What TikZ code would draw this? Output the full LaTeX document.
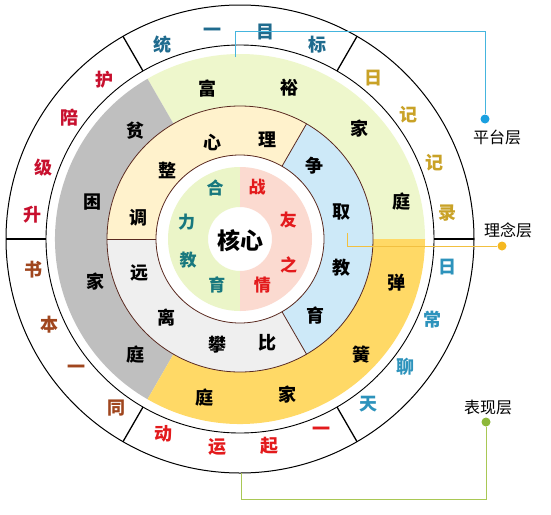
\documentclass[tikz,border=0pt]{standalone}
\usepackage{fontspec}
\newfontfamily\cjk{Noto Sans CJK SC}
\definecolor{cBlueA}{HTML}{1F6B8E}
\definecolor{cGold}{HTML}{C9A227}
\definecolor{cBlueB}{HTML}{2D93BC}
\definecolor{cRed}{HTML}{E31A1C}
\definecolor{cBrown}{HTML}{A0461E}
\definecolor{cCrimson}{HTML}{C8102E}
\definecolor{cTeal}{HTML}{18787E}
\definecolor{bandGreen}{HTML}{EEF7CC}
\definecolor{bandOrange}{HTML}{FFD966}
\definecolor{bandGray}{HTML}{BFBFBF}
\definecolor{midTan}{HTML}{FFF2CC}
\definecolor{midBlue}{HTML}{CDE9F8}
\definecolor{midGray}{HTML}{EFEFEF}
\definecolor{inGreen}{HTML}{EBF5C8}
\definecolor{inPink}{HTML}{FBDAD0}
\definecolor{ringLine}{HTML}{5A2A20}
\definecolor{lnBlue}{HTML}{45B5DE}
\definecolor{dotBlue}{HTML}{1AA0E0}
\definecolor{lnGold}{HTML}{F2C040}
\definecolor{dotGold}{HTML}{F5B820}
\definecolor{lnGreen}{HTML}{A9C855}
\definecolor{dotGreen}{HTML}{8DB83A}
\newcommand\mysector[5]{\fill[#1] ([shift={(#2:#5)}]O) arc[start angle=#2,end angle=#3,radius=#5] -- ([shift={(#3:#4)}]O) arc[start angle=#3,end angle=#2,radius=#4] -- cycle;}
\begin{document}
\begin{tikzpicture}[x=1pt,y=1pt,
  ch/.style={font=\cjk\bfseries\fontsize{18}{18}\selectfont, inner sep=0pt},
  chs/.style={font=\cjk\bfseries\fontsize{17}{17}\selectfont, inner sep=0pt},
  lab/.style={font=\cjk\fontsize{16}{16}\selectfont, inner sep=0pt, text=black},
  dotnode/.style={circle, inner sep=0pt, minimum size=9pt},
  conn/.style={line width=1pt}]
\useasboundingbox (0,0) rectangle (551,-514);
\coordinate (O) at (240,-239);
% outer band
\draw[line width=1pt, fill=white] (O) circle[radius=234pt];
\draw[line width=0.9pt] (O) circle[radius=194pt];
\foreach \a in {0,60,120,180,240,300}
  \draw[line width=1.3pt] ([shift={(\a:194pt)}]O) -- ([shift={(\a:234pt)}]O);
% coloured band
\mysector{bandGreen}{0}{120}{133pt}{185pt}
\mysector{bandGray}{120}{240}{133pt}{185pt}
\mysector{bandOrange}{240}{360}{133pt}{185pt}
% middle ring
\mysector{midTan}{60}{180}{84pt}{133pt}
\mysector{midGray}{180}{300}{84pt}{133pt}
\mysector{midBlue}{-60}{60}{84pt}{133pt}
\draw[ringLine, line width=0.8pt] (O) circle[radius=133pt];
\draw[ringLine, line width=0.8pt] (O) circle[radius=84pt];
\foreach \a in {60,180,300}
  \draw[ringLine, line width=0.8pt] ([shift={(\a:84pt)}]O) -- ([shift={(\a:133pt)}]O);
% inner ring
\mysector{inGreen}{90}{270}{32pt}{72pt}
\mysector{inPink}{-90}{90}{32pt}{72pt}
% outer band texts
\foreach \a/\c [count=\i] in {111.7/统,97.7/一,83/目,68.3/标}
  \node[ch, text=cBlueA] (ta\i) at ([shift={(\a:209pt)}]O) {\c};
\foreach \a/\c [count=\i] in {50.2/日,36.4/记,21.5/记,7.2/录}
  \node[ch, text=cGold] (tb\i) at ([shift={(\a:209pt)}]O) {\c};
\foreach \a/\c [count=\i] in {-7.7/日,-22.8/常,-37.6/聊,-52/天}
  \node[ch, text=cBlueB] (tc\i) at ([shift={(\a:209pt)}]O) {\c};
\foreach \a/\c [count=\i] in {-111.4/动,-96.3/运,-82/起,-67/一}
  \node[ch, text=cRed] (td\i) at ([shift={(\a:209pt)}]O) {\c};
\foreach \a/\c [count=\i] in {188.5/书,204.3/本,218.4/一,233.8/同}
  \node[ch, text=cBrown] (te\i) at ([shift={(\a:209pt)}]O) {\c};
\foreach \a/\c [count=\i] in {173.4/升,160/级,144.6/陪,130.4/护}
  \node[ch, text=cCrimson] (tf\i) at ([shift={(\a:209pt)}]O) {\c};
% coloured band texts
\foreach \a/\r/\c [count=\i] in {102/154/富,71.7/159/裕,42.8/163/家,12.9/166/庭,
  -15.7/163/弹,-43.6/168/簧,-73/163/家,-102.5/162/庭,
  133.9/151/贫,166/152/困,196.5/151/家,228/156/庭}
  \node[ch, text=black] (tg\i) at ([shift={(\a:\r pt)}]O) {\c};
% middle ring texts
\foreach \a/\r/\c [count=\i] in {168/104/调,136.6/100/整,105.7/100/心,74.7/103/理,
  44.6/105/争,14.8/105/取,-15.9/106/教,-45.4/107/育,
  -75/107/比,-102.2/108/攀,-133.1/107/离,-161.2/106/远}
  \node[ch, text=black] (th\i) at ([shift={(\a:\r pt)}]O) {\c};
% inner ring texts
\foreach \a/\r/\c [count=\i] in {116/57/合,162/56/力,202/56/教,243/51/育}
  \node[chs, text=cTeal] (ti\i) at ([shift={(\a:\r pt)}]O) {\c};
\foreach \a/\r/\c [count=\i] in {72/55/战,21.6/52/友,-28/55/之,-64/51/情}
  \node[chs, text=cRed] (tj\i) at ([shift={(\a:\r pt)}]O) {\c};
\node[font=\cjk\bfseries\fontsize{23}{23}\selectfont, inner sep=0pt] (core) at (240,-241) {核心};
% connectors
\node[dotnode, fill=dotBlue] (d1) at (485,-119) {};
\node[dotnode, fill=dotGold] (d2) at (502,-246) {};
\node[dotnode, fill=dotGreen] (d3) at (486,-422) {};
\node[lab] (l1) at (497,-137) {平台层};
\node[lab] (l2) at (508,-230) {理念层};
\node[lab] (l3) at (488,-407) {表现层};
\coordinate (s1) at (235,-57);
\coordinate (k1) at (485,-31);
\coordinate (s2) at (347,-233);
\coordinate (s3) at (241,-473);
\coordinate (k3) at (486,-499);
\draw[conn, lnBlue] (s1) |- (k1) -- (d1);
\draw[conn, lnGold] (s2) |- (d2);
\draw[conn, lnGreen] (s3) |- (k3) -- (d3);
\end{tikzpicture}
\end{document}
